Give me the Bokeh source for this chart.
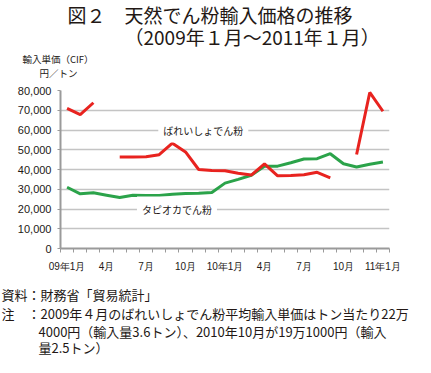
from bokeh.plotting import figure
from bokeh.layouts import column
from bokeh.models import Range1d, FixedTicker, NumeralTickFormatter, Label
from bokeh.core.properties import value
from bokeh.embed import file_html
from bokeh.resources import INLINE

nan = float("nan")

# 25 monthly categories, Jan 2009 .. Jan 2011
months = ["09年1月", "2月", "3月", "4月", "5月", "6月", "7月", "8月", "9月", "10月", "11月", "12月",
          "10年1月", "2月", "3月", "4月", "5月", "6月", "7月", "8月", "9月", "10月", "11月", "12月",
          "11年1月"]
labelled_months = [0, 3, 6, 9, 12, 15, 18, 21, 24]

# ばれいしょでん粉 (yen / ton); Apr 2009 and Oct 2010 are off-scale (224,000 / 191,000) -> gaps
potato = [71000, 67800, 73800, nan, 46300, 46300, 46500, 47500, 53300, 48900, 40000, 39500,
          39400, 38100, 37200, 42800, 36800, 37000, 37300, 38600, 35800, nan, 47600, 79000, 69500]
# タピオカでん粉 (yen / ton)
tapioca = [31000, 27700, 28200, 27000, 25800, 27000, 26800, 26800, 27500, 27800, 28000, 28400,
           33100, 35000, 37100, 41600, 41700, 43400, 45300, 45500, 48000, 42900, 41300, 42700, 43800]
y_ticks = [0, 10000, 20000, 30000, 40000, 50000, 60000, 70000, 80000]

title_lines = ["図２　天然でん粉輸入価格の推移", "（2009年１月～2011年１月）"]
unit_lines = ["輸入単価（CIF）", "円／トン"]
note_lines = ["資料：財務省「貿易統計」", "注",
              "：2009年４月のばれいしょでん粉平均輸入単価はトン当たり22万",
              "4000円（輸入量3.6トン）、2010年10月が19万1000円（輸入",
              "量2.5トン）"]

W = 415
LAT = "Liberation Sans"
JP = "Noto Sans CJK JP"
TXT = "#231815"
AX = "#9a9a9a"


def text_panel(h):
    f = figure(width=W, height=h, output_backend="svg", toolbar_location=None,
               x_range=Range1d(0, W), y_range=Range1d(h, 0),
               x_axis_type=None, y_axis_type=None, min_border=0, frame_align=False)
    f.outline_line_color = None
    f.xgrid.visible = False
    f.ygrid.visible = False
    return f


# ---- top: titles and unit text ----
top = text_panel(82)
top.text(x=[67, 124], y=[14, 36], text=title_lines, text_font=value(JP), text_font_size="19px",
         text_color=TXT, text_baseline="middle")
top.text(x=[22, 39], y=[58, 72], text=unit_lines, text_font=value(JP), text_font_size="9.5px",
         text_color=TXT, text_baseline="middle")

# ---- chart ----
xs = list(range(len(months)))
p = figure(width=W, height=192, output_backend="svg", toolbar_location=None,
           x_range=Range1d(-0.5, len(months) - 0.5), y_range=Range1d(0, 80000),
           min_border_left=60, min_border_right=26, min_border_top=8, min_border_bottom=23,
           frame_align=False)
p.outline_line_color = None

p.line(xs, tapioca, line_color="#2ba34a", line_width=3)
p.line(xs, potato, line_color="#e8231f", line_width=3)

p.yaxis.ticker = FixedTicker(ticks=y_ticks)
p.yaxis.formatter = NumeralTickFormatter(format="0,0")
p.yaxis.major_label_text_font = LAT
p.yaxis.major_label_text_font_size = "11px"
p.yaxis.major_label_text_color = TXT
p.yaxis.axis_line_color = AX
p.yaxis.axis_line_width = 2
p.yaxis.major_tick_line_color = AX
p.yaxis.major_tick_out = 3
p.yaxis.major_tick_in = 0
p.yaxis.minor_tick_line_color = None
p.yaxis.major_label_standoff = 6

p.xaxis.ticker = FixedTicker(ticks=labelled_months,
                             minor_ticks=[i - 0.5 for i in range(len(months) + 1)])
p.xaxis.major_label_overrides = {i: months[i] for i in labelled_months}
p.xaxis.major_label_text_font = LAT
p.xaxis.major_label_text_font_size = "10px"
p.xaxis.major_label_text_color = TXT
p.xaxis.axis_line_color = AX
p.xaxis.axis_line_width = 2
p.xaxis.major_tick_line_color = None
p.xaxis.minor_tick_line_color = AX
p.xaxis.minor_tick_out = 4
p.xaxis.minor_tick_in = 0
p.xaxis.major_label_standoff = 6

p.xgrid.grid_line_color = None
p.ygrid.ticker = FixedTicker(ticks=y_ticks[1:])
p.ygrid.grid_line_color = "#c4c4c4"
p.ygrid.grid_line_width = 1.5

p.add_layout(Label(x=10.35, y=60000, text="ばれいしょでん粉", text_font=JP, text_font_size="10px",
                   text_color=TXT, text_align="center", text_baseline="middle",
                   background_fill_color="white", padding=5))
p.add_layout(Label(x=8.35, y=20000, text="タピオカでん粉", text_font=JP, text_font_size="10px",
                   text_color=TXT, text_align="center", text_baseline="middle",
                   background_fill_color="white", padding=5))

# ---- bottom: source and notes ----
bottom = text_panel(83)
bottom.text(x=[1, 1, 27, 38, 38], y=[20, 39, 39, 57, 73], text=note_lines,
            text_font=value(JP), text_font_size="13px", text_color=TXT, text_baseline="middle")

layout = column(top, p, bottom, spacing=0)
open("out.html", "w").write(file_html(layout, INLINE))
